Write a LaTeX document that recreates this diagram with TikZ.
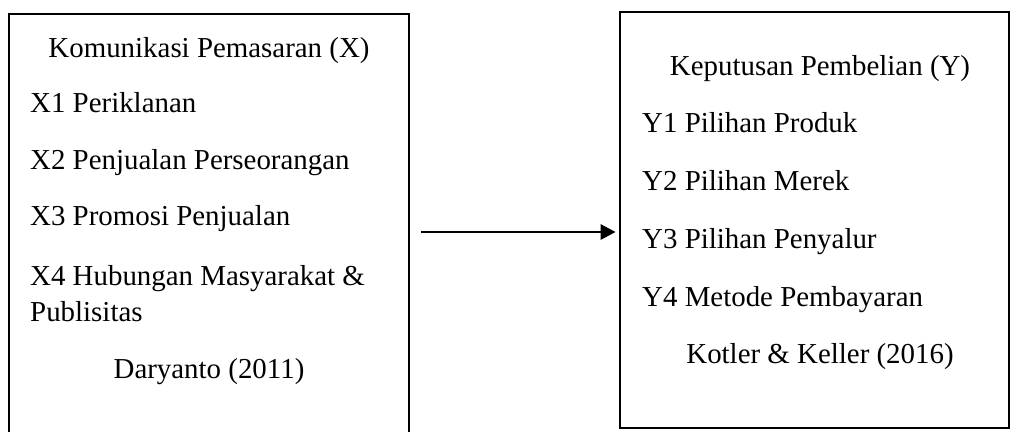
\documentclass[tikz,border=0pt]{standalone}
\usepackage{fontspec}
\setmainfont{Liberation Serif}
\usetikzlibrary{arrows.meta}
\begin{document}
\begin{tikzpicture}[x=1pt,y=-1pt,
  box/.style={draw=black,line width=2.8pt,rectangle,inner sep=0pt},
  txt/.style={inner sep=0pt,font=\fontsize{28.9}{34}\selectfont},
  lt/.style={txt,anchor=base west},
  ct/.style={txt,anchor=base},
  conn/.style={line width=2.8pt,-{Triangle[length=15pt,width=15pt]}}]
\useasboundingbox (0,0) rectangle (1011,431);
\clip (0,0) rectangle (1011,431);
% boxes
\node[box,minimum width=400pt,minimum height=440pt] (A) at (209,234) {};
\node[box,minimum width=389pt,minimum height=416pt] (B) at (814.5,220) {};
% left texts
\node[ct] (a0) at (209,57) {Komunikasi Pemasaran (X)};
\node[lt] (a1) at (30,112) {X1 Periklanan};
\node[lt] (a2) at (30,169) {X2 Penjualan Perseorangan};
\node[lt] (a3) at (30,225) {X3 Promosi Penjualan};
\node[lt] (a4) at (30,285) {X4 Hubungan Masyarakat \&};
\node[lt] (a5) at (30,321) {Publisitas};
\node[ct] (a6) at (209,378) {Daryanto (2011)};
% right texts
\node[ct] (b0) at (820,75) {Keputusan Pembelian (Y)};
\node[lt] (b1) at (642,132) {Y1 Pilihan Produk};
\node[lt] (b2) at (642,190) {Y2 Pilihan Merek};
\node[lt] (b3) at (642,248) {Y3 Pilihan Penyalur};
\node[lt] (b4) at (642,306) {Y4 Metode Pembayaran};
\node[ct] (b5) at (820,363) {Kotler \& Keller (2016)};
% connector
\coordinate (s) at (421,232);
\draw[conn,shorten >=3pt] (s) -- (B.west |- s);
\end{tikzpicture}
\end{document}
